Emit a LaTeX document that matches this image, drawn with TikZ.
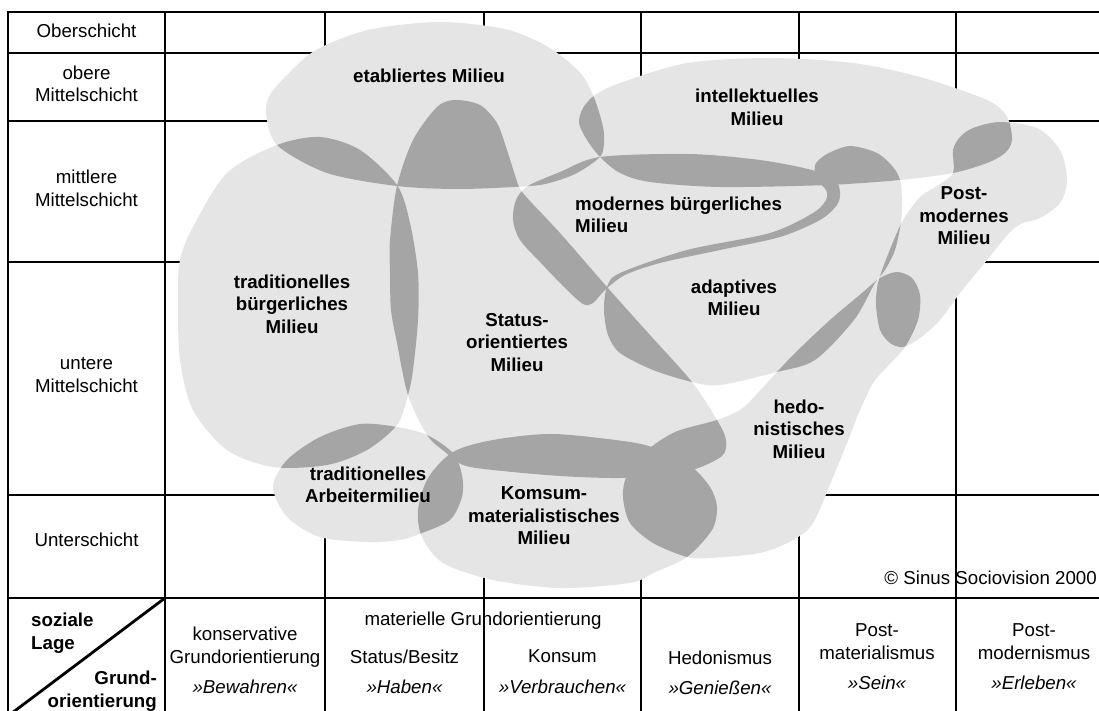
\documentclass[tikz,border=0pt]{standalone}
\usepackage{fontspec}
\setmainfont{Liberation Sans}

\definecolor{milieulight}{gray}{0.898}
\definecolor{milieudark}{gray}{0.647}

% Milieu outlines (pixel coordinates, y runs downwards)
\newcommand{\blobEtab}{plot[smooth cycle] coordinates {(266,113) (270,95) (287,75) (316,50) (368,30) (438,22) (500,28) (535,40) (560,55) (582,75) (595,100) (603,127) (604,143) (600,157) (577,173) (553,182) (530,186) (460,189) (397,186) (327,173) (277,145)}}
\newcommand{\blobTrad}{plot[smooth cycle] coordinates {(277,145) (320,137) (360,150) (397,185) (410,223) (418,273) (418,320) (413,370) (408,395) (397,425) (367,450) (327,465) (273,467) (227,450) (193,410) (180,360) (178,300) (180,260) (193,227) (227,173)}}
\newcommand{\blobStatus}{plot[smooth cycle] coordinates {(397,186) (413,140) (437,107) (455,100) (480,105) (497,123) (507,150) (515,175) (523,193) (560,233) (607,287) (650,335) (692,382) (717,420) (726,440) (722,456) (692,470) (653,474) (620,478) (560,476) (493,470) (463,465) (445,452) (427,435) (408,395) (397,343) (391,310) (390,273) (390,240)}}
\newcommand{\blobModern}{plot[smooth cycle] coordinates {(600,157) (689,154) (760,160) (812,170) (835,180) (840,192) (837,205) (820,220) (780,237) (720,250) (660,263) (625,275) (605,290) (593,303) (583,304) (565,288) (540,262) (520,240) (513,220) (516,200) (528,186) (560,172)}}
\newcommand{\blobIntel}{plot[smooth cycle] coordinates {(600,157) (587,140) (579,123) (583,108) (595,95) (620,83) (687,63) (770,58) (853,63) (920,77) (987,100) (1007,117) (1012,140) (1005,153) (987,163) (953,173) (900,180) (827,185) (720,187) (650,182) (620,173)}}
\newcommand{\blobAdapt}{plot[smooth cycle] coordinates {(607,287) (620,273) (687,250) (770,233) (813,213) (826,200) (826,190) (817,180) (815,165) (827,154) (850,146) (877,153) (893,167) (900,180) (902,200) (901,222) (895,250) (885,270) (875,283) (854,320) (815,360) (777,372) (720,385) (692,382) (653,370) (620,353) (608,335) (604,310)}}
\newcommand{\blobPost}{plot[smooth cycle] coordinates {(953,173) (953,150) (960,137) (973,128) (1000,122) (1037,128) (1060,150) (1067,180) (1060,203) (1040,218) (1023,223) (1010,232) (987,260) (960,293) (940,320) (920,338) (903,347) (890,343) (880,330) (876,305) (878,283) (887,257) (902,222) (920,197) (937,186)}}
\newcommand{\blobHedo}{plot[smooth cycle] coordinates {(717,420) (740,410) (755,396) (777,372) (795,353) (830,320) (862,293) (880,278) (897,272) (912,278) (920,295) (918,320) (905,347) (887,367) (873,383) (860,410) (847,443) (833,477) (813,523) (793,540) (760,553) (710,558) (687,557) (653,543) (630,523) (623,497) (627,475) (645,452) (675,432)}}
\newcommand{\blobArbeit}{plot[smooth cycle] coordinates {(273,487) (287,460) (320,437) (360,424) (397,427) (427,435) (453,453) (462,475) (462,497) (450,520) (422,533) (400,540) (367,542) (320,537) (287,517)}}
\newcommand{\blobKonsum}{plot[smooth cycle] coordinates {(453,452) (493,440) (553,434) (630,442) (660,450) (690,465) (710,487) (717,507) (712,530) (687,557) (653,573) (630,583) (560,588) (493,580) (443,563) (422,537) (418,510) (428,478)}}

% dark area where two milieus overlap
\newcommand{\overlap}[2]{\begin{scope}\clip #1; \fill[milieudark] #2; \end{scope}}

\begin{document}
\begin{tikzpicture}[x=1pt, y=-1pt,
		font=\fontsize{18.7}{22.5}\selectfont,
		% Grid styles
		gridline/.style={line width=2.8pt, line cap=rect},
		rowlabel/.style={align=center, inner sep=0pt},
		% Milieu styles
		milieu/.style={fill=milieulight},
		milieulabel/.style={align=center, inner sep=0pt, font=\fontsize{18.7}{22.5}\selectfont\bfseries},
		% Orientation styles
		orient/.style={align=center, inner sep=0pt, font=\fontsize{18.7}{23}\selectfont},
		motto/.style={inner sep=0pt, font=\fontsize{18.7}{23}\selectfont\itshape}
		]
		\useasboundingbox (0,0) rectangle (1099,711);
		\fill[white] (0,0) rectangle (1099,711);
		
		% --- GRID ---
		\draw[gridline] (8,12) -- (1099,12) (8,53) -- (1099,53) (8,121) -- (1099,121)
		(8,262) -- (1099,262) (8,495) -- (1099,495) (8,598) -- (1099,598);
		\draw[gridline] (8,12) -- (8,716) (165,12) -- (165,716) (325,12) -- (325,716)
		(484,12) -- (484,716) (641,12) -- (641,716) (799,12) -- (799,716) (956,12) -- (956,716);
		\draw[gridline] (165,598) -- (8,716);
		
		% --- MILIEUS ---
		\fill[milieu] \blobEtab;
		\fill[milieu] \blobTrad;
		\fill[milieu] \blobStatus;
		\fill[milieu] \blobModern;
		\fill[milieu] \blobIntel;
		\fill[milieu] \blobAdapt;
		\fill[milieu] \blobPost;
		\fill[milieu] \blobHedo;
		\fill[milieu] \blobArbeit;
		\fill[milieu] \blobKonsum;
		
		% Overlaps
		\overlap{\blobEtab}{\blobTrad}
		\overlap{\blobEtab}{\blobStatus}
		\overlap{\blobEtab}{\blobModern}
		\overlap{\blobEtab}{\blobIntel}
		\overlap{\blobTrad}{\blobStatus}
		\overlap{\blobTrad}{\blobArbeit}
		\overlap{\blobStatus}{\blobArbeit}
		\overlap{\blobStatus}{\blobKonsum}
		\overlap{\blobStatus}{\blobModern}
		\overlap{\blobStatus}{\blobAdapt}
		\overlap{\blobStatus}{\blobHedo}
		\overlap{\blobModern}{\blobIntel}
		\overlap{\blobModern}{\blobAdapt}
		\overlap{\blobIntel}{\blobAdapt}
		\overlap{\blobIntel}{\blobPost}
		\overlap{\blobAdapt}{\blobPost}
		\overlap{\blobAdapt}{\blobHedo}
		\overlap{\blobHedo}{\blobPost}
		\overlap{\blobKonsum}{\blobArbeit}
		\overlap{\blobKonsum}{\blobHedo}
		
		% --- ROW LABELS ---
		\node[rowlabel] (row_ober) at (86.5,31) {Oberschicht};
		\node[rowlabel] (row_obmit) at (86.5,84) {obere\\Mittelschicht};
		\node[rowlabel] (row_mimit) at (86.5,188.5) {mittlere\\Mittelschicht};
		\node[rowlabel] (row_unmit) at (86.5,375) {untere\\Mittelschicht};
		\node[rowlabel] (row_unter) at (86.5,540) {Unterschicht};
		
		% --- MILIEU LABELS ---
		\node[milieulabel] (lbl_etab) at (429,75.5) {etabliertes Milieu};
		\node[milieulabel] (lbl_intel) at (757,107.5) {intellektuelles\\Milieu};
		\node[milieulabel, align=left, anchor=west] (lbl_modern) at (575,215) {modernes bürgerliches\\Milieu};
		\node[milieulabel] (lbl_post) at (964,216) {Post-\\modernes\\Milieu};
		\node[milieulabel] (lbl_trad) at (292,304) {traditionelles\\bürgerliches\\Milieu};
		\node[milieulabel] (lbl_status) at (517,342.5) {Status-\\orientiertes\\Milieu};
		\node[milieulabel] (lbl_adapt) at (734,298) {adaptives\\Milieu};
		\node[milieulabel] (lbl_arbeit) at (368,485) {traditionelles\\Arbeitermilieu};
		\node[milieulabel] (lbl_konsum) at (544,516) {Komsum-\\materialistisches\\Milieu};
		\node[milieulabel] (lbl_hedo) at (799,429) {hedo-\\nistisches\\Milieu};
		\node[anchor=base east, inner sep=0pt] (copyright) at (1097,584) {© Sinus Sociovision 2000};
		
		% --- ORIENTATION ROW ---
		\node[milieulabel, align=left, anchor=west] (lbl_lage) at (31,633) {soziale\\Lage};
		\node[milieulabel, align=right, anchor=east] (lbl_grund) at (157,691) {Grund-\\orientierung};
		\node[orient] (or_kons) at (245,647) {konservative\\Grundorientierung};
		\node[orient] (or_mat) at (483,621) {materielle Grundorientierung};
		\node[orient] (or_status) at (404.5,656.5) {Status/Besitz};
		\node[orient] (or_konsum) at (562.5,656.5) {Konsum};
		\node[orient] (or_hedo) at (720,657.5) {Hedonismus};
		\node[orient] (or_postmat) at (877,642) {Post-\\materialismus};
		\node[orient] (or_postmod) at (1034,642) {Post-\\modernismus};
		\node[motto] (mo_kons) at (245,686.5) {»Bewahren«};
		\node[motto] (mo_status) at (404.5,686.5) {»Haben«};
		\node[motto] (mo_konsum) at (562.5,686.5) {»Verbrauchen«};
		\node[motto] (mo_hedo) at (720,687.5) {»Genießen«};
		\node[motto] (mo_postmat) at (877,683) {»Sein«};
		\node[motto] (mo_postmod) at (1034,683) {»Erleben«};
		
	\end{tikzpicture}
\end{document}
